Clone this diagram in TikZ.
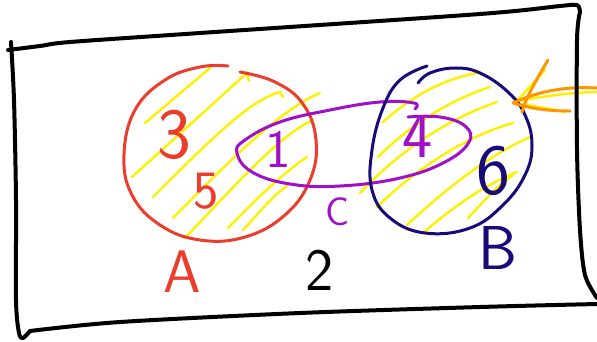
\documentclass[tikz,border=0pt]{standalone}
\usepackage{xcolor}
\definecolor{aRed}{RGB}{236,60,42}
\definecolor{cPurple}{RGB}{160,16,200}
\definecolor{bNavy}{RGB}{24,10,120}
\definecolor{hatch}{RGB}{255,240,0}
\definecolor{arrOrange}{RGB}{255,150,0}
\begin{document}
\begin{tikzpicture}[x=1pt,y=-1pt,
  frame/.style={line width=4pt,line cap=round,line join=round,black},
  setline/.style={line width=3pt,line cap=round,line join=round},
  hatchline/.style={hatch,line width=2.4pt,line cap=round},
  lbl/.style={font=\sffamily\fontsize{#1}{#1}\selectfont,inner sep=0pt}]
\useasboundingbox (0,0) rectangle (597,341);
% yellow hatching in A
\draw[hatchline] (145,123) -- (210,68);
\draw[hatchline] (132,177) -- (247,73) -- (249,81);
\draw[hatchline] (153,197) .. controls (210,140) and (250,100) .. (280,92) -- (283,97);
\draw[hatchline] (173,218) .. controls (230,160) and (280,110) .. (320,93);
\draw[hatchline] (185,238) .. controls (240,180) and (280,135) .. (313,120);
\draw[hatchline] (228,228) .. controls (260,195) and (285,172) .. (307,157);
\draw[hatchline] (243,230) .. controls (260,212) and (272,196) .. (287,186);
% yellow hatching in B
\draw[hatchline] (383,122) .. controls (410,98) and (440,80) .. (477,73);
\draw[hatchline] (378,157) .. controls (410,125) and (450,100) .. (490,87);
\draw[hatchline] (360,193) .. controls (400,150) and (450,118) .. (497,102);
\draw[hatchline] (377,207) .. controls (420,165) and (470,135) .. (513,123);
\draw[hatchline] (407,225) .. controls (450,185) and (490,155) .. (530,137);
\draw[hatchline] (423,233) .. controls (455,205) and (485,185) .. (517,172);
\draw[hatchline] (468,218) .. controls (485,200) and (498,185) .. (513,175);
% yellow near arrow
\draw[hatchline] (515,103) -- (545,70);
\draw[hatchline] (518,101) .. controls (550,95) and (580,92) .. (597,92);
\draw[hatchline] (522,104) .. controls (540,107) and (555,110) .. (565,112);
% circle A
\draw[setline,aRed] plot[smooth,tension=0.7] coordinates {(240,72) (275,82) (303,104) (316,140) (310,180) (285,215) (245,237) (200,240) (160,225) (132,195) (124,155) (135,110) (165,80) (200,67) (228,66)};
% ellipse C
\draw[setline,cPurple] plot[smooth,tension=0.7] coordinates {(415,109) (414,103) (380,102) (330,110) (280,122) (245,140) (237,153) (252,172) (290,184) (340,186) (400,178) (445,162) (469,142) (465,126) (440,117) (408,117)};
% circle B
\draw[setline,bNavy] plot[smooth,tension=0.7] coordinates {(427,66) (400,80) (383,108) (372,150) (372,190) (390,218) (425,233) (470,228) (503,205) (525,175) (532,145) (525,115) (508,92) (480,73) (455,68) (430,73) (418,83)};
% orange arrow
\draw[setline,arrOrange] (548,60) .. controls (535,82) and (526,98) .. (522,112);
\draw[setline,arrOrange] (597,88) .. controls (560,86) and (535,93) .. (513,103) .. controls (535,110) and (555,111) .. (570,111);
% frame
\draw[frame] plot[smooth] coordinates {(8,50) (40,46) (70,42) (200,33) (480,14) (560,6) (577,5) (580,12)};
\draw[frame] plot[smooth] coordinates {(580,12) (577,40) (577,150) (580,230) (585,275) (597,298)};
\draw[frame] plot[smooth] coordinates {(11,42) (14,100) (16,200) (16,300) (19,333) (23,338) (30,331)};
\draw[frame] plot[smooth] coordinates {(30,331) (120,322) (300,313) (480,307) (597,304)};
% labels
\node[lbl=72,text=aRed] (n3) at (174,135) {3};
\node[lbl=54,text=aRed] (n5) at (206,191) {5};
\node[lbl=54,text=cPurple] (n1) at (278,149) {1};
\node[lbl=64,text=cPurple] (n4) at (418,137) {4};
\node[lbl=72,text=bNavy] (n6) at (493,171) {6};
\node[lbl=40,text=cPurple] (nC) at (338,212) {C};
\node[lbl=60,text=aRed] (nA) at (182,272) {A};
\node[lbl=60,text=black] (n2) at (320,270) {2};
\node[lbl=62,text=bNavy] (nB) at (498,248) {B};
\end{tikzpicture}
\end{document}
